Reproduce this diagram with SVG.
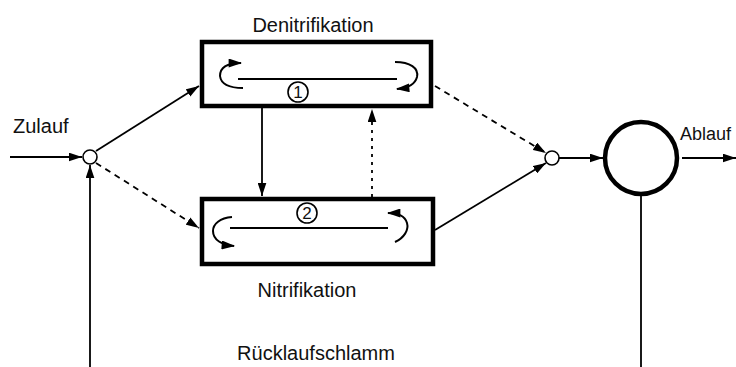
<svg xmlns="http://www.w3.org/2000/svg" width="736" height="367" viewBox="0 0 736 367">
  <style>
    text { font-family: "Liberation Sans", Arial, sans-serif; fill: #111; }
    .lbl { font-size: 20px; }
    .num { font-size: 17px; text-anchor: middle; }
    .box { fill: #fff; stroke: #000; stroke-width: 4.5; }
    .ln { fill: none; stroke: #000; stroke-width: 1.8; }
    .dash { stroke-dasharray: 6 5; }
    .dot { stroke-dasharray: 3 5; }
    .node { fill: #fff; stroke: #000; stroke-width: 1.6; }
    .arc { fill: none; stroke: #000; stroke-width: 2; }
  </style>
  <defs>
    <marker id="ah" viewBox="0 0 12 8" refX="12" refY="4" markerWidth="13" markerHeight="9" markerUnits="userSpaceOnUse" orient="auto">
      <path d="M0,0 L12,4 L0,8 Z" fill="#000"/>
    </marker>
    <marker id="ahs" viewBox="0 0 12 8" refX="11" refY="4" markerWidth="14" markerHeight="9" markerUnits="userSpaceOnUse" orient="auto">
      <path d="M0,0 L12,4 L0,8 Z" fill="#000"/>
    </marker>
  </defs>
  <rect width="736" height="367" fill="#fff"/>

  <g id="connectors">
    <line class="ln" x1="10" y1="157" x2="82" y2="157" marker-end="url(#ah)"/>
    <line class="ln" x1="90" y1="367" x2="90" y2="165" marker-end="url(#ah)"/>
    <line class="ln" x1="96" y1="151" x2="199" y2="86" marker-end="url(#ah)"/>
    <line class="ln dash" x1="96" y1="163" x2="199" y2="228" marker-end="url(#ah)"/>
    <line class="ln" x1="262" y1="108" x2="262" y2="196" marker-end="url(#ah)"/>
    <line class="ln dot" x1="372" y1="197" x2="372" y2="109" marker-end="url(#ah)"/>
    <line class="ln dash" x1="435" y1="86" x2="546" y2="153" marker-end="url(#ah)"/>
    <line class="ln" x1="435" y1="230" x2="546" y2="163" marker-end="url(#ah)"/>
    <line class="ln" x1="559" y1="158" x2="603" y2="158" marker-end="url(#ah)"/>
    <line class="ln" x1="682" y1="158" x2="736" y2="158" marker-end="url(#ah)"/>
    <line class="ln" x1="641" y1="196" x2="641" y2="367"/>
    <text class="lbl" x="13" y="133">Zulauf</text>
    <text x="680" y="140" font-size="18">Ablauf</text>
    <text class="lbl" x="316" y="360" text-anchor="middle">Rücklaufschlamm</text>
  </g>

  <g id="node-in">
    <circle class="node" cx="90" cy="157" r="7"/>
  </g>

  <g id="node-out">
    <circle class="node" cx="552" cy="158" r="7"/>
  </g>

  <g id="denitrifikation">
    <rect class="box" x="202" y="42" width="229" height="64"/>
    <line class="ln" x1="238" y1="79" x2="397" y2="79" stroke-width="2"/>
    <path class="arc" d="M243,88 C230,88 221,84 220,76 C220,67 228,63 241,63" marker-end="url(#ahs)"/>
    <path class="arc" d="M395,62 C410,62 419,68 417,77 C415,85 408,88 397,89" marker-end="url(#ahs)"/>
    <circle class="node" cx="298" cy="92" r="10" stroke-width="2"/>
    <text class="num" x="298" y="98">1</text>
    <text class="lbl" x="313" y="32" text-anchor="middle">Denitrifikation</text>
  </g>

  <g id="nitrifikation">
    <rect class="box" x="202" y="199" width="231" height="65"/>
    <line class="ln" x1="230" y1="228" x2="388" y2="228" stroke-width="2"/>
    <path class="arc" d="M232,217 C220,218 213,224 213,231 C213,240 222,245 234,246" marker-end="url(#ahs)"/>
    <path class="arc" d="M395,242 C404,238 409,230 407,223 C405,216 399,213 388,213" marker-end="url(#ahs)"/>
    <circle class="node" cx="307" cy="213" r="10" stroke-width="2"/>
    <text class="num" x="307" y="219">2</text>
    <text class="lbl" x="307" y="297" text-anchor="middle">Nitrifikation</text>
  </g>

  <g id="nachklaerung">
    <circle cx="641" cy="158" r="36" fill="#fff" stroke="#000" stroke-width="4.5"/>
  </g>
</svg>
